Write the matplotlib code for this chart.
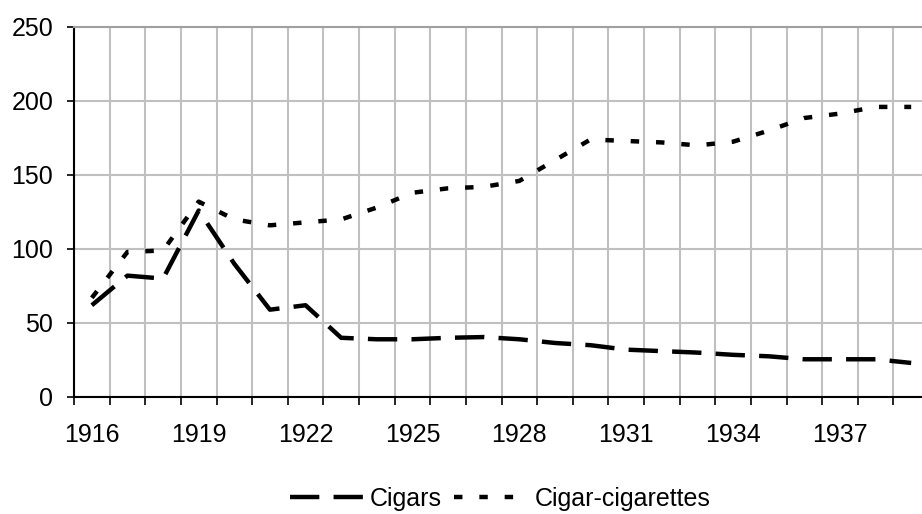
import matplotlib
matplotlib.use("Agg")
import matplotlib.pyplot as plt
import numpy as np

plt.rcParams['font.family'] = ['Liberation Sans', 'DejaVu Sans']

years = list(range(1916, 1940))
cigars = [62, 82, 80, 126, 90, 59, 62, 40, 39, 39, 40, 40.5, 39, 36.5, 35, 32,
          31, 30, 28.5, 27.5, 25.5, 25.5, 25.5, 23]
cigar_cigarettes = [67, 98, 99, 132, 120, 116, 118, 120, 128, 138, 141, 142, 146,
                    160, 174, 173, 172, 170, 172.5, 180, 188.5, 191.5, 196, 196]
y_ticks = [0, 50, 100, 150, 200, 250]
series_names = ["Cigars", "Cigar-cigarettes"]

W, H = 922, 514
fig = plt.figure(figsize=(W / 100, H / 100), dpi=100)
left, right, top, bottom = 74, 929, 27, 397
ax = fig.add_axes([left / W, (H - bottom) / H, (right - left) / W, (bottom - top) / H])

x = np.arange(len(years))
lw = 3.2
l1, = ax.plot(x, cigars, color='black', lw=lw, dashes=(6.6, 3.2), label=series_names[0])
l2, = ax.plot(x, cigar_cigarettes, color='black', lw=lw, dashes=(1.9, 3.8), label=series_names[1])

ax.set_xlim(-0.5, len(years) - 0.5)
ax.set_ylim(0, 250)

major = x[::3]
ax.set_xticks(major)
ax.set_xticklabels([str(years[i]) for i in major])
ax.set_xticks(np.arange(-0.5, len(years) + 0.5, 1), minor=True)
ax.tick_params(axis='x', which='major', length=0, pad=19, labelsize=18)
ax.tick_params(axis='x', which='minor', length=6, width=1.2, direction='out', color='black')
ax.set_yticks(y_ticks)
ax.tick_params(axis='y', which='major', length=5, width=1.2, direction='out', pad=10, labelsize=18)

ax.grid(True, which='minor', axis='x', color='#c0c0c0', lw=1.5)
ax.grid(True, which='major', axis='y', color='#c0c0c0', lw=1.5)
ax.grid(False, which='major', axis='x')
ax.set_axisbelow(True)

ax.spines['right'].set_visible(False)
ax.spines['top'].set_color('#a0a0a0')
ax.spines['top'].set_linewidth(1.5)
ax.spines['left'].set_color('black')
ax.spines['left'].set_linewidth(1.5)
ax.spines['bottom'].set_color('black')
ax.spines['bottom'].set_linewidth(1.5)

fig.legend(handles=[l1, l2], loc='center', bbox_to_anchor=(500 / W, (H - 499) / H),
           ncol=2, frameon=False, fontsize=18, handlelength=3.0, handletextpad=0.2,
           columnspacing=0.5, borderpad=0)

fig.savefig("out.png", dpi=100)
